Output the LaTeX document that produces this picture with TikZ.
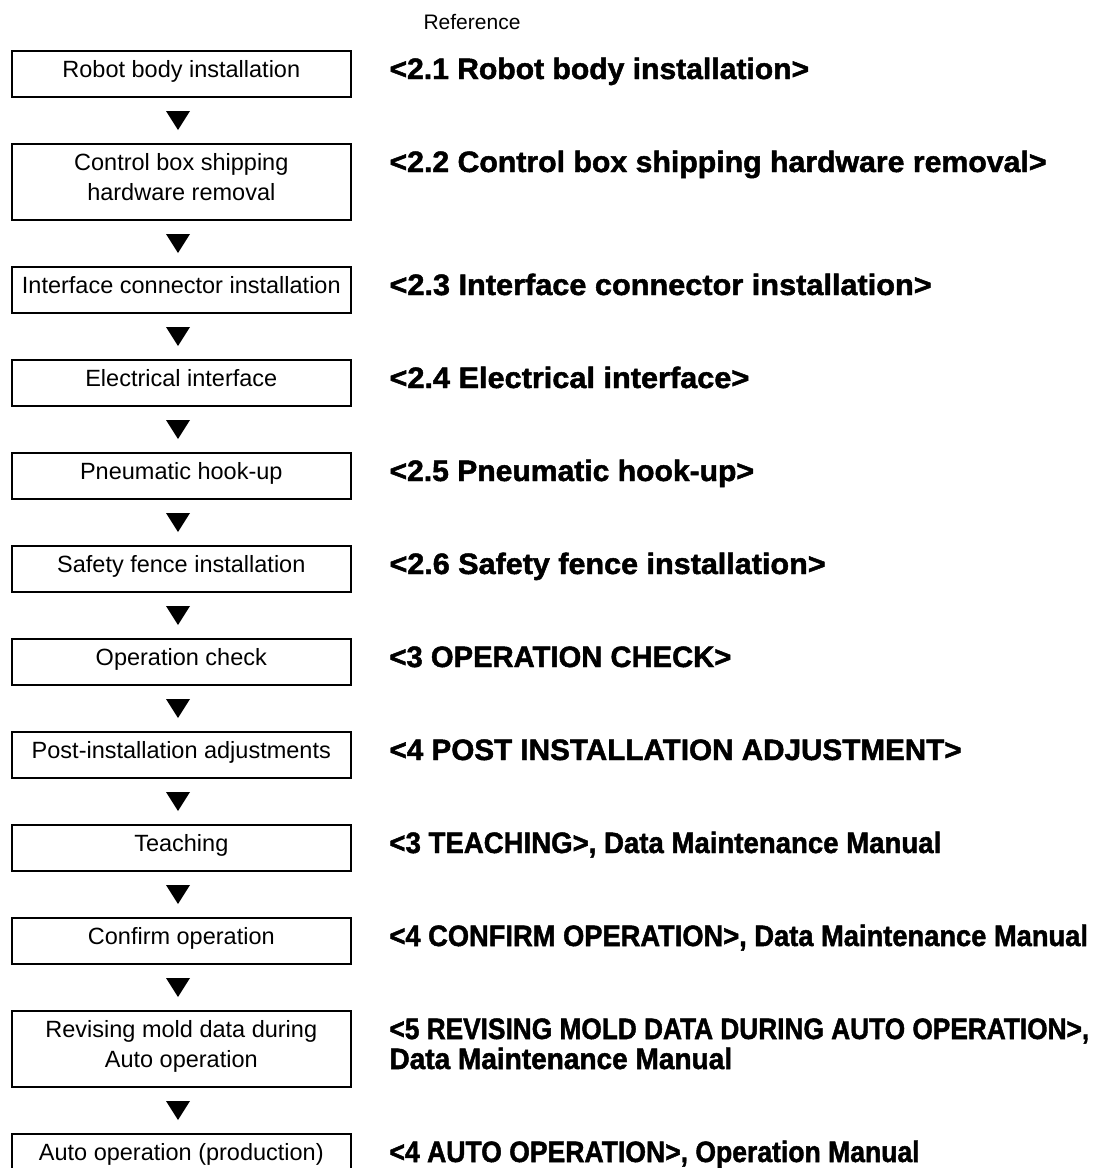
\documentclass[tikz,border=0pt]{standalone}
\usepackage{graphicx}
\usepackage{fontspec}
\setmainfont{Liberation Sans}
\newfontfamily\rfont{Liberation Sans}[BoldFeatures={FakeBold=1.6}]
\newcommand\hx[2]{\scalebox{#1}[1]{#2}}
\begin{document}
\begin{tikzpicture}[x=1pt,y=-1pt,
  stepbox/.style={draw=black,line width=2pt,minimum width=339pt,inner sep=0pt},
  single/.style={stepbox,minimum height=46pt},
  double/.style={stepbox,minimum height=76pt},
  ltext/.style={inner sep=0pt,align=center,anchor=base,font=\fontsize{23.5}{30}\selectfont},
  rtext/.style={inner sep=0pt,align=left,anchor=base west,font=\rfont\bfseries\fontsize{29.5}{30}\selectfont},
  tri/.style={fill=black}]
\useasboundingbox (0,0) rectangle (1112,1168);
\node[inner sep=0pt,anchor=base,font=\fontsize{21}{25}\selectfont] (ref) at (472,29.5) {Reference};
% boxes
\node[single] (b1) at (181.3,74) {};
\node[double] (b2) at (181.3,182) {};
\node[single] (b3) at (181.3,290) {};
\node[single] (b4) at (181.3,383) {};
\node[single] (b5) at (181.3,476) {};
\node[single] (b6) at (181.3,569) {};
\node[single] (b7) at (181.3,662) {};
\node[single] (b8) at (181.3,755) {};
\node[single] (b9) at (181.3,848) {};
\node[single] (b10) at (181.3,941) {};
\node[double] (b11) at (181.3,1049) {};
\node[single] (b12) at (181.3,1157) {};
% box texts
\node[ltext] (l1) at ([yshift=-27.5pt]b1.north) {Robot body installation};
\node[ltext] (l2) at ([yshift=-57.5pt]b2.north) {Control box shipping\\hardware removal};
\node[ltext] (l3) at ([yshift=-27.5pt]b3.north) {Interface connector installation};
\node[ltext] (l4) at ([yshift=-27.5pt]b4.north) {Electrical interface};
\node[ltext] (l5) at ([yshift=-27.5pt]b5.north) {Pneumatic hook-up};
\node[ltext] (l6) at ([yshift=-27.5pt]b6.north) {Safety fence installation};
\node[ltext] (l7) at ([yshift=-27.5pt]b7.north) {Operation check};
\node[ltext] (l8) at ([yshift=-27.5pt]b8.north) {Post-installation adjustments};
\node[ltext] (l9) at ([yshift=-27.5pt]b9.north) {Teaching};
\node[ltext] (l10) at ([yshift=-27.5pt]b10.north) {Confirm operation};
\node[ltext] (l11) at ([yshift=-57.5pt]b11.north) {Revising mold data during\\Auto operation};
\node[ltext] (l12) at ([yshift=-27.5pt]b12.north) {Auto operation (production)};
% references
\node[rtext] (r1) at ([xshift=37.5pt,yshift=-29pt]b1.north east) {\hx{1.02}{<2.1 Robot body installation>}};
\node[rtext] (r2) at ([xshift=37.5pt,yshift=-29pt]b2.north east) {\hx{1.025}{<2.2 Control box shipping hardware removal>}};
\node[rtext] (r3) at ([xshift=37.5pt,yshift=-29pt]b3.north east) {\hx{1.04}{<2.3 Interface connector installation>}};
\node[rtext] (r4) at ([xshift=37.5pt,yshift=-29pt]b4.north east) {\hx{1.04}{<2.4 Electrical interface>}};
\node[rtext] (r5) at ([xshift=37.5pt,yshift=-29pt]b5.north east) {\hx{1.02}{<2.5 Pneumatic hook-up>}};
\node[rtext] (r6) at ([xshift=37.5pt,yshift=-29pt]b6.north east) {\hx{1.035}{<2.6 Safety fence installation>}};
\node[rtext] (r7) at ([xshift=37.5pt,yshift=-29pt]b7.north east) {\hx{0.99}{<3 OPERATION CHECK>}};
\node[rtext] (r8) at ([xshift=37.5pt,yshift=-29pt]b8.north east) {\hx{1.005}{<4 POST INSTALLATION ADJUSTMENT>}};
\node[rtext] (r9) at ([xshift=37.5pt,yshift=-29pt]b9.north east) {\hx{0.935}{<3 TEACHING>, Data Maintenance Manual}};
\node[rtext] (r10) at ([xshift=37.5pt,yshift=-29pt]b10.north east) {\hx{0.925}{<4 CONFIRM OPERATION>, Data Maintenance Manual}};
\node[rtext] (r11) at ([xshift=37.5pt,yshift=-59pt]b11.north east) {\hx{0.89}{<5 REVISING MOLD DATA DURING AUTO OPERATION>,}\\\hx{0.95}{Data Maintenance Manual}};
\node[rtext] (r12) at ([xshift=37.5pt,yshift=-29pt]b12.north east) {\hx{0.9}{<4 AUTO OPERATION>, Operation Manual}};
% flow triangles
\foreach \a in {1,...,11} {
  \fill[tri] ([xshift=-15.3pt,yshift=-13pt]b\a.south) -- ++(24,0) -- ++(-12,19) -- cycle;
}
\end{tikzpicture}
\end{document}
